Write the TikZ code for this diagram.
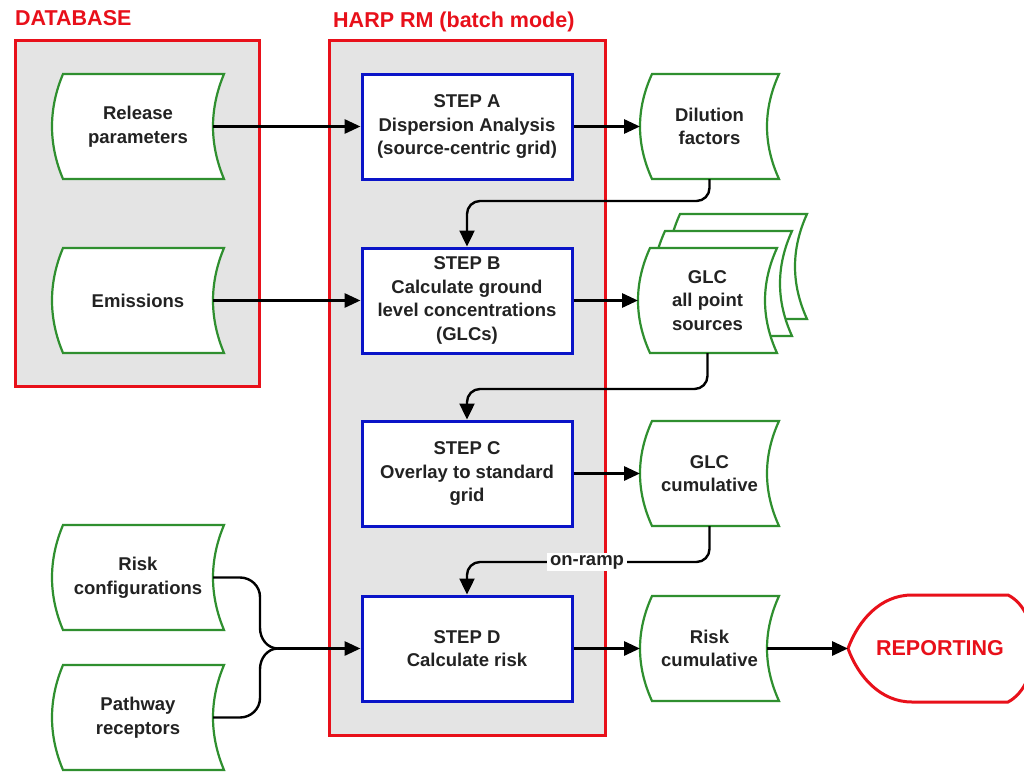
\documentclass[tikz,border=0pt]{standalone}
\usepackage{fontspec}
\setmainfont{Liberation Sans}
\usetikzlibrary{arrows.meta,calc}
\definecolor{boxgray}{HTML}{E4E4E4}
\definecolor{harpred}{HTML}{E8101A}
\definecolor{stepblue}{HTML}{0A14C8}
\definecolor{datagreen}{HTML}{2F8F2F}
\definecolor{txtgray}{HTML}{222222}
\tikzset{
  container/.style={draw=harpred,line width=3pt,fill=boxgray},
  titletext/.style={text=harpred,font=\bfseries\fontsize{21.5}{25}\selectfont,inner sep=0pt},
  stepbox/.style={draw=stepblue,line width=3pt,fill=white,minimum width=210pt,minimum height=105pt,
    align=center,text=txtgray,font=\bfseries\fontsize{18.5}{23.5}\selectfont,inner sep=0pt},
  storedline/.style={draw=datagreen,line width=2.2pt,fill=white,line join=miter},
  storedtext/.style={align=center,text=txtgray,font=\bfseries\fontsize{18.5}{23.5}\selectfont,inner sep=0pt},
  arrowline/.style={draw=black,line width=3pt,-{Triangle[length=16pt,width=14pt]}},
  conn/.style={draw=black,line width=2.4pt},
  connarrow/.style={draw=black,line width=2.4pt,rounded corners=13pt,-{Triangle[length=16pt,width=15pt]}},
  reportline/.style={draw=harpred,line width=3pt,fill=white},
}
% name, x0, y0, x1, y1, bulge, text
\newcommand\storedshape[7]{%
  \pgfmathsetmacro\stLcx{#2-4*#6/3}%
  \pgfmathsetmacro\stRcx{#4-4*#6/3}%
  \pgfmathsetmacro\stYa{#3+(#5-#3)/3}%
  \pgfmathsetmacro\stYb{#5-(#5-#3)/3}%
  \pgfmathsetmacro\stMy{(#3+#5)/2}%
  \pgfmathsetmacro\stMx{(#2+#4)/2-#6/2}%
  \pgfmathsetmacro\stLx{#2-#6}%
  \pgfmathsetmacro\stRx{#4-#6}%
  \path[storedline] (#2,#3) -- (#4,#3) .. controls (\stRcx,\stYa) and (\stRcx,\stYb) .. (#4,#5)
     -- (#2,#5) .. controls (\stLcx,\stYb) and (\stLcx,\stYa) .. cycle;
  \coordinate (#1-l) at (\stLx,\stMy);
  \coordinate (#1-r) at (\stRx,\stMy);
  \coordinate (#1-b) at (\stMx,#5);
  \node[storedtext] (#1) at (\stMx,\stMy) {#7};
}
\begin{document}
\begin{tikzpicture}[x=1pt,y=-1pt]
\useasboundingbox (0,0) rectangle (1024,771);
\fill[white] (0,0) rectangle (1024,771);

% containers
\draw[container] (15,40) rectangle (259,386);
\draw[container] (329,40) rectangle (605,735);
\node[titletext,anchor=west] (dbtitle) at (15,18) {DATABASE};
\node[titletext,anchor=west] (harptitle) at (333,22) {HARP RM (batch mode)};

% steps
\node[stepbox] (stepA) at (467,126.5) {STEP A\\Dispersion Analysis\\(source-centric grid)};
\node[stepbox] (stepB) at (467,300.5) {STEP B\\Calculate ground\\level concentrations\\(GLCs)};
\node[stepbox] (stepC) at (467,473.5) {STEP C\\Overlay to standard\\grid};
\node[stepbox] (stepD) at (467,648.5) {STEP D\\Calculate risk};

% left data
\storedshape{rel}{63}{74}{224}{179}{11}{Release\\parameters}
\storedshape{emi}{63}{248}{224}{353}{11}{Emissions}
\storedshape{rcf}{63}{525}{224}{630}{11}{Risk\\configurations}
\storedshape{pth}{63}{665}{224}{770}{11}{Pathway\\receptors}

% right data
\storedshape{dil}{652}{74}{779}{179}{12}{Dilution\\factors}
\storedshape{glcc}{680}{214}{807}{319}{12}{}
\storedshape{glcb}{665}{231}{792}{336}{12}{}
\storedshape{glc}{650}{248}{777}{353}{12}{GLC\\all point\\sources}
\storedshape{glccum}{652}{421}{779}{526}{12}{GLC\\cumulative}
\storedshape{riskcum}{652}{596}{779}{701}{12}{Risk\\cumulative}

% reporting
\path[reportline] (912,595) -- (1008,595) .. controls (1042,612) and (1042,684) .. (1008,702)
  -- (912,702) .. controls (880,702) and (858,676) .. (848,648.5)
  .. controls (858,621) and (880,595) .. cycle;
\coordinate (rep-l) at (848,648.5);
\node[titletext] (report) at (940,648.5) {REPORTING};

% straight arrows
\draw[arrowline] (rel-r) -- (stepA.west);
\draw[arrowline] (stepA.east) -- (dil-l);
\draw[arrowline] (emi-r) -- (stepB.west);
\draw[arrowline] (stepB.east) -- (glc-l);
\draw[arrowline] (stepC.east) -- (glccum-l);
\draw[arrowline] (stepD.east) -- (riskcum-l);
\draw[arrowline] (riskcum-r) -- (rep-l);

% feedback connectors
\coordinate (jAB) at (467,201);
\coordinate (jBC) at (467,389);
\coordinate (jCD) at (467,562);
\draw[connarrow] (dil-b) |- (jAB) -- (stepB.north);
\draw[connarrow] (glc-b) |- (jBC) -- (stepC.north);
\draw[connarrow] (glccum-b) |- (jCD) -- (stepD.north);
\node[fill=white,inner xsep=3pt,inner ysep=2pt,text=txtgray,font=\bfseries\fontsize{18.5}{22}\selectfont] (onramp) at (587,562) {on-ramp};

% brace merge
\coordinate (merge) at (278,648.5);
\draw[conn] (rcf-r) -- (240,577.5) to[out=0,in=90] (260,597) -- (260,628) to[out=-90,in=180] (merge);
\draw[conn] (pth-r) -- (240,717.5) to[out=0,in=-90] (260,698) -- (260,669) to[out=90,in=180] (merge);
\draw[arrowline] (merge) -- (stepD.west);
\end{tikzpicture}
\end{document}
